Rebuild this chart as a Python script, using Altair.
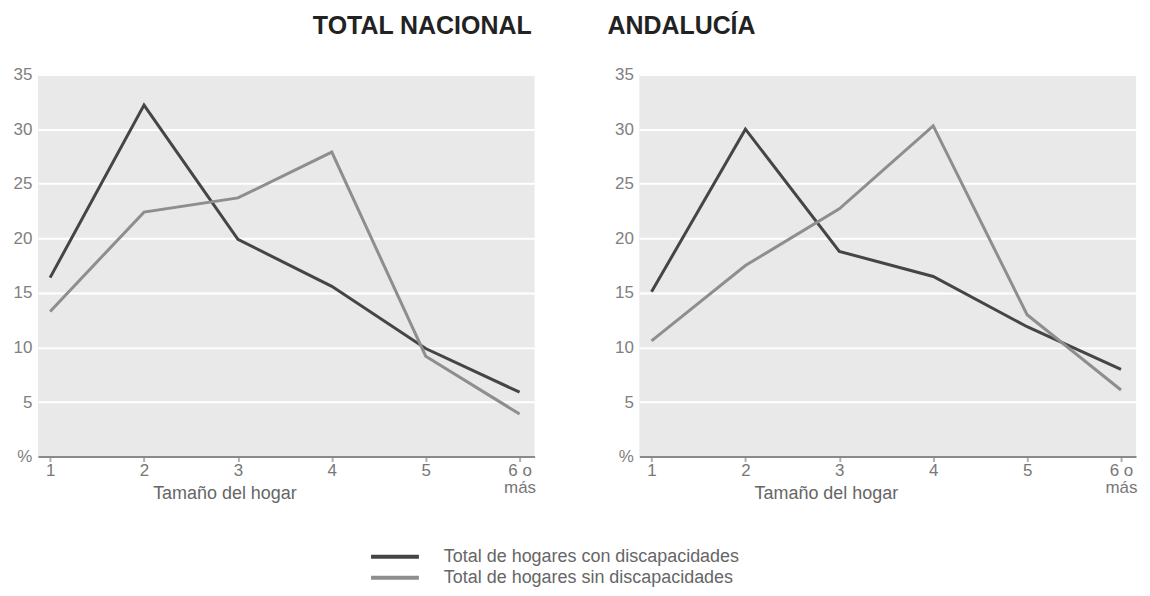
import altair as alt
import pandas as pd

sizes = [1, 2, 3, 4, 5, 6]
series = ["Total de hogares con discapacidades", "Total de hogares sin discapacidades"]
nac_con = [16.4, 32.2, 19.9, 15.6, 9.9, 5.9]
nac_sin = [13.3, 22.4, 23.7, 27.9, 9.2, 3.9]
and_con = [15.1, 30.0, 18.8, 16.5, 11.9, 8.0]
and_sin = [10.6, 17.5, 22.7, 30.3, 13.0, 6.1]
y_ticks = [0, 5, 10, 15, 20, 25, 30, 35]
line_colors = ["#454545", "#8e8e8e"]

FONT = "Liberation Sans"
color_scale = alt.Scale(domain=series, range=line_colors)


def make_df(con, sin):
    rows = []
    for s, v in zip(sizes, con):
        rows.append({"size": s, "value": v, "series": series[0]})
    for s, v in zip(sizes, sin):
        rows.append({"size": s, "value": v, "series": series[1]})
    return pd.DataFrame(rows)


def panel(df, title, anchor, dx):
    return alt.Chart(df).mark_line(strokeWidth=3).encode(
        x=alt.X(
            "size:Q",
            scale=alt.Scale(domain=[0.87, 6.16], nice=False, zero=False),
            axis=alt.Axis(
                values=sizes,
                labelExpr="datum.value == 6 ? ['6 o', 'más'] : datum.label",
                title="Tamaño del hogar",
                grid=False,
                domainColor="#8a8a8a",
                domainWidth=2,
                tickColor="#b0b0b0",
                tickWidth=2,
                tickSize=5,
                labelFont=FONT,
                labelFontSize=17,
                labelColor="#777777",
                labelPadding=1,
                labelLineHeight=17,
                titleFont=FONT,
                titleFontSize=18,
                titleFontWeight="normal",
                titleColor="#666666",
                titleX=187,
                titleY=28,
                titleBaseline="top",
            ),
        ),
        y=alt.Y(
            "value:Q",
            scale=alt.Scale(domain=[0, 35], nice=False),
            axis=alt.Axis(
                values=y_ticks,
                labelExpr="datum.value == 0 ? '%' : datum.label",
                title=None,
                grid=True,
                gridColor="white",
                gridWidth=2,
                domain=False,
                ticks=False,
                labelFont=FONT,
                labelFontSize=17,
                labelColor="#808080",
                labelPadding=6,
            ),
        ),
        color=alt.Color("series:N", scale=color_scale, legend=None),
    ).properties(
        width=498,
        height=383,
        view=alt.ViewBackground(fill="#e9e9e9", strokeWidth=0),
        title=alt.TitleParams(
            text=title,
            anchor=anchor,
            frame="group",
            dx=dx,
            fontSize=25,
            font=FONT,
            fontWeight="bold",
            color="#222222",
            offset=27,
        ),
    )


left = panel(make_df(nac_con, nac_sin), "TOTAL NACIONAL", "end", -3)
right = panel(make_df(and_con, and_sin), "ANDALUCÍA", "start", -32)

legend_df = pd.DataFrame({"series": series})
legend_base = alt.Chart(legend_df).encode(
    y=alt.Y("series:N", axis=None, scale=alt.Scale(domain=series, paddingInner=0, paddingOuter=0)),
)
legend_sym = legend_base.mark_rule(strokeWidth=4).encode(
    x=alt.value(334),
    x2=alt.value(382),
    color=alt.Color("series:N", scale=color_scale, legend=None),
)
legend_txt = legend_base.mark_text(
    align="left", baseline="middle", font=FONT, fontSize=18, color="#666666"
).encode(x=alt.value(407), text="series:N")
legend_chart = alt.layer(legend_sym, legend_txt).properties(
    width=1080, height=42, view=alt.ViewBackground(fill="white", strokeWidth=0)
)

chart = alt.vconcat(
    alt.hconcat(left, right, spacing=72), legend_chart, spacing=44
).properties(
    padding={"left": 5, "top": 5, "right": 5, "bottom": 5}
).configure(background="white")

chart.save("out.html", embed_options={"renderer": "svg", "actions": False})
